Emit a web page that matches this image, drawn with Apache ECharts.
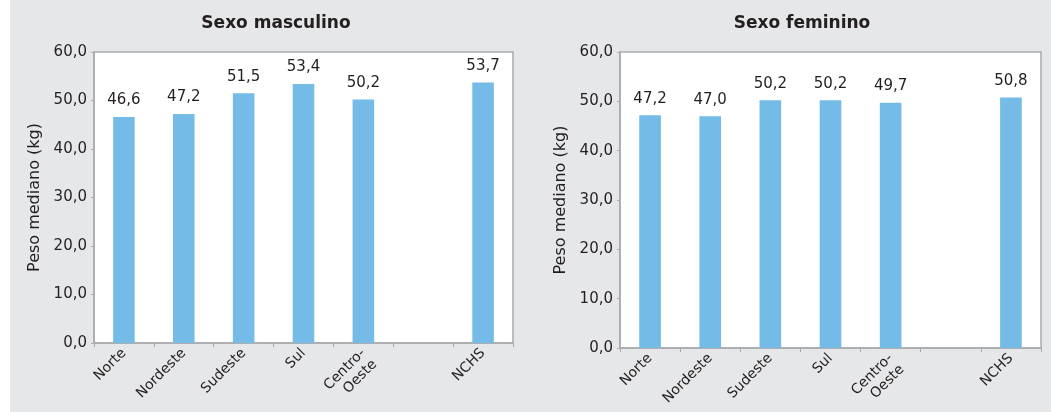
<!DOCTYPE html>
<html>
<head>
<meta charset="utf-8">
<script src="https://cdn.jsdelivr.net/npm/echarts@6/dist/echarts.min.js"></script>
<style>
html,body{margin:0;padding:0;background:#fff;}
#c{width:1051px;height:412px;}
</style>
</head>
<body>
<div id="c"></div>
<script>
const categories = ['Norte', 'Nordeste', 'Sudeste', 'Sul', 'Centro-\nOeste', '', 'NCHS'];
const maleValues = [46.6, 47.2, 51.5, 53.4, 50.2, null, 53.7];
const femaleValues = [47.2, 47.0, 50.2, 50.2, 49.7, null, 50.8];
const panelTitles = ['Sexo masculino', 'Sexo feminino'];
const yAxisName = 'Peso mediano (kg)';
const yMin = 0, yMax = 60, yStep = 10;

const FONT = 'DejaVu Sans';
const TXT = '#231F20';
const AXIS = '#A9ABAE';
const BAR = '#74BBE7';
const fmt = v => Number(v).toFixed(1).replace('.', ',');
// keep the first line of a two-line label anchored at the tick (second line hangs below)
const catFmt = v => (v.indexOf('\n') >= 0 ? '\n' + v : v);

const grids = [
  {left: 94, top: 52, width: 419, height: 291},
  {left: 620, top: 52, width: 421, height: 297}
];

function xAxis(i) {
  return {
    type: 'category', gridIndex: i, data: categories,
    axisLine: {lineStyle: {color: AXIS, width: 1.5}},
    axisTick: {show: true, length: 4, lineStyle: {color: AXIS}},
    axisLabel: {rotate: 45, margin: 8, color: TXT, fontFamily: FONT, fontSize: 14, interval: 0,
                lineHeight: 16, formatter: catFmt}
  };
}
function yAxis(i) {
  return {
    type: 'value', gridIndex: i, min: yMin, max: yMax, interval: yStep,
    name: yAxisName, nameLocation: 'middle', nameGap: 51,
    nameTextStyle: {color: TXT, fontFamily: FONT, fontSize: 16},
    axisLine: {show: true, lineStyle: {color: AXIS, width: 1.5}},
    axisTick: {show: true, length: 3, lineStyle: {color: AXIS}},
    splitLine: {show: false},
    axisLabel: {formatter: fmt, color: TXT, fontFamily: FONT, fontSize: 15, margin: 7}
  };
}
function series(i, data) {
  return {
    type: 'bar', xAxisIndex: i, yAxisIndex: i, data: data,
    barWidth: '36%',
    itemStyle: {color: BAR},
    label: {show: true, position: 'top', distance: 9, formatter: p => fmt(p.value),
            color: TXT, fontFamily: FONT, fontSize: 15}
  };
}

const chart = echarts.init(document.getElementById('c'), null, {renderer: 'canvas'});
chart.setOption({
  animation: false,
  backgroundColor: '#ffffff',
  graphic: [{type: 'rect', z: -100, silent: true, shape: {x: 10, y: 0, width: 1041, height: 412}, style: {fill: '#E6E7E8'}}],
  title: [
    {text: panelTitles[0], left: 276, top: 15, textAlign: 'center', padding: 0,
     textStyle: {fontFamily: FONT, fontSize: 17, fontWeight: 'bold', color: TXT}},
    {text: panelTitles[1], left: 802, top: 15, textAlign: 'center', padding: 0,
     textStyle: {fontFamily: FONT, fontSize: 17, fontWeight: 'bold', color: TXT}}
  ],
  grid: grids.map(g => Object.assign({show: true, backgroundColor: '#ffffff', borderColor: AXIS, borderWidth: 1.5}, g)),
  xAxis: [xAxis(0), xAxis(1)],
  yAxis: [yAxis(0), yAxis(1)],
  series: [series(0, maleValues), series(1, femaleValues)]
});
</script>
</body>
</html>
